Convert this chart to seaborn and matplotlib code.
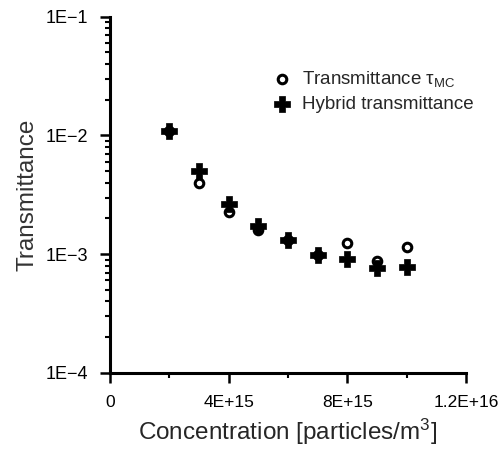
import matplotlib
matplotlib.use("Agg")
import matplotlib.pyplot as plt
import matplotlib.ticker as mticker
import seaborn as sns
import pandas as pd
import numpy as np

# Concentration values [particles/m^3]
concentration = [2e15, 3e15, 4e15, 5e15, 6e15, 7e15, 8e15, 9e15, 1e16]
# Monte Carlo transmittance
tau_mc = [0.0108, 0.0040, 0.00225, 0.00160, 0.00132, 0.00099, 0.00124, 0.00087, 0.00115]
# Hybrid model transmittance
tau_hybrid = [0.0108, 0.0050, 0.00266, 0.00173, 0.00132, 0.00099, 0.00091, 0.00076, 0.00078]

x_tick_vals = [0, 4e15, 8e15, 1.2e16]
x_tick_labels = ["0", "4E+15", "8E+15", "1.2E+16"]
y_tick_vals = [1e-4, 1e-3, 1e-2, 1e-1]
y_tick_labels = ["1E\u22124", "1E\u22123", "1E\u22122", "1E\u22121"]

label_mc = "Transmittance \u03c4$_{\\mathrm{MC}}$"
label_hy = "Hybrid transmittance"

df = pd.DataFrame({
    "conc": concentration * 2,
    "trans": tau_mc + tau_hybrid,
    "series": [label_mc] * len(tau_mc) + [label_hy] * len(tau_hybrid),
})

sns.set_style("ticks")
plt.rcParams["font.family"] = ["Liberation Sans", "DejaVu Sans"]
plt.rcParams["mathtext.fontset"] = "custom"
plt.rcParams["mathtext.rm"] = "Liberation Sans"
plt.rcParams["mathtext.it"] = "Liberation Sans:italic"

fig = plt.figure(figsize=(5.02, 4.53), dpi=100)
ax = fig.add_axes([0.219, 0.177, 0.709, 0.786])

sns.scatterplot(data=df[df.series == label_mc], x="conc", y="trans", ax=ax,
                marker="o", s=38, facecolor="white", edgecolor="black",
                linewidth=2.2, label=label_mc, zorder=3)
sns.scatterplot(data=df[df.series == label_hy], x="conc", y="trans", ax=ax,
                marker="P", s=120, color="black", edgecolor="black",
                linewidth=0.5, label=label_hy, zorder=4)

ax.set_yscale("log")
ax.set_xlim(0, 1.2e16)
ax.set_ylim(1e-4, 1e-1)

ax.xaxis.set_minor_locator(mticker.FixedLocator([2e15, 6e15, 1e16]))
ax.yaxis.set_minor_locator(mticker.LogLocator(base=10, subs=np.arange(2, 10)))
ax.yaxis.set_minor_formatter(mticker.NullFormatter())

for side in ["top", "right"]:
    ax.spines[side].set_visible(False)
for side in ["left", "bottom"]:
    ax.spines[side].set_linewidth(2.2)
    ax.spines[side].set_color("black")

ax.tick_params(axis="both", which="both", bottom=True, left=True)
ax.tick_params(axis="both", which="major", direction="out", length=7, width=1.8,
               colors="black", pad=9)
ax.tick_params(axis="both", which="minor", direction="out", length=3.5, width=1.5,
               colors="black")

ax.set_xticks(x_tick_vals)
ax.set_xticklabels(x_tick_labels, fontsize=12.5)
ax.set_yticks(y_tick_vals)
ax.set_yticklabels(y_tick_labels, fontsize=13)

ax.set_xlabel("Concentration [particles/m$^{3}$]", fontsize=17.5, labelpad=5)
ax.set_ylabel("Transmittance", fontsize=17.5, labelpad=5, color="#333333")

leg = ax.legend(loc="upper left", bbox_to_anchor=(0.43, 0.875), frameon=False,
                fontsize=13.5, handletextpad=0.5, labelspacing=0.4,
                borderaxespad=0.0, handlelength=1.2)

fig.savefig("out.png", dpi=100, facecolor="white")
